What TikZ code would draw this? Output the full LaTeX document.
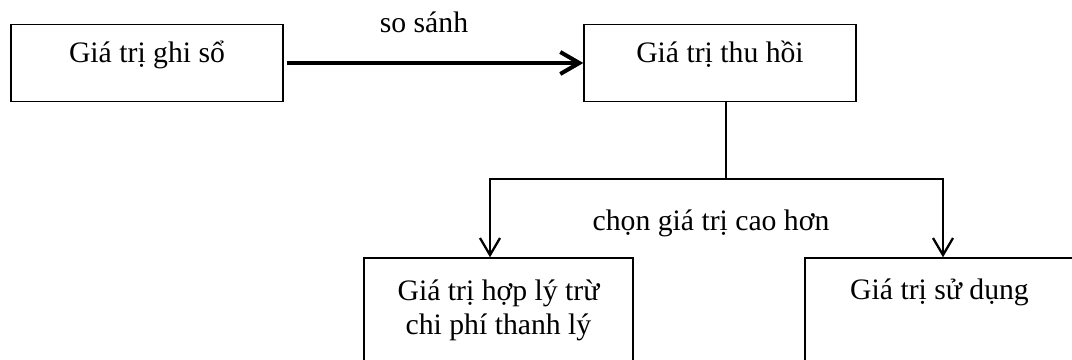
\documentclass[tikz,border=0pt]{standalone}
\usepackage{fontspec}
\setmainfont{Liberation Serif}
\usetikzlibrary{arrows.meta}

\tikzset{
  box/.style={draw, line width=0.8pt, inner sep=0pt,
    minimum width=5.44cm, minimum height=1.55cm,
    text height=0.76cm, text depth=0.79cm},
  lowbox/.style={box, align=center, minimum width=5.38cm,
    minimum height=2.6cm, text height=0.84cm, text depth=1.76cm},
  link/.style={line width=1.3pt},
}

\begin{document}
\begin{tikzpicture}[>={Straight Barb[length=3.4mm,width=4mm]},
    font=\fontsize{16.9}{19.8}\selectfont]
  \useasboundingbox (0,0) rectangle (21.44,-7.2);
  \clip (0,0) rectangle (21.44,-7.2);

  \node [box]    (ghiso)  at (2.94,-1.26)  {Giá trị ghi sổ};
  \node [box]    (thuhoi) at (14.40,-1.26) {Giá trị thu hồi};
  \node [lowbox, text height=1.54cm, text depth=1.06cm]
                 (hoply)  at (9.97,-6.46)  {Giá trị hợp lý trừ\\chi phí thanh lý};
  \node [lowbox] (sudung) at (18.79,-6.46) {Giá trị sử dụng};

  % compare
  \draw [->, line width=2.3pt, shorten <=0.06cm,
    >={Straight Barb[length=3.8mm,width=4.4mm]}] (ghiso) -- (thuhoi);
  \node [anchor=base] (sosanh) at (8.48,-0.66) {so sánh};

  % pick the larger
  \coordinate (fork) at (14.52,-3.58);
  \draw [link] (fork |- thuhoi.south) -- (fork);
  \draw [link, ->] (fork) -| ([xshift=-0.17cm]hoply.north);
  \draw [link, ->] (fork) -| ([xshift=0.07cm]sudung.north);
  \node [anchor=base] (chon) at (14.22,-4.62) {chọn giá trị cao hơn};
\end{tikzpicture}
\end{document}
